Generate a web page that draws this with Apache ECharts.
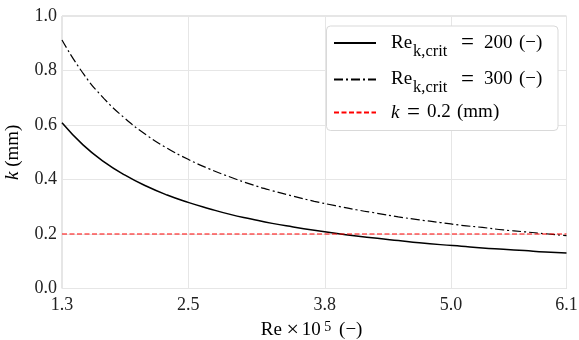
<!DOCTYPE html>
<html><head><meta charset="utf-8">
<script src="https://cdn.jsdelivr.net/npm/echarts@6/dist/echarts.min.js"></script>
<style>html,body{margin:0;padding:0;background:#fff}#c{width:579px;height:340px}</style>
</head><body><div id="c"></div>
<script>
const reValues = [1.3,1.5,1.7,1.9,2.1,2.3,2.5,2.7,2.9,3.1,3.3,3.5,3.7,3.9,4.1,4.3,4.5,4.7,4.9,5.1,5.3,5.5,5.7,5.9,6.1];
const k200 = [0.608,0.527,0.465,0.416,0.376,0.343,0.316,0.293,0.272,0.255,0.239,0.226,0.214,0.203,0.193,0.184,0.176,0.168,0.161,0.155,0.149,0.144,0.139,0.134,0.130];
const k300 = [0.912,0.790,0.697,0.624,0.564,0.515,0.474,0.439,0.409,0.382,0.359,0.339,0.320,0.304,0.289,0.276,0.263,0.252,0.242,0.232,0.224,0.215,0.208,0.201,0.194];
const kRef = [0.2, 0.2];
const kRefRe = [1.3, 6.1];
const xTicks = [1.3, 2.5, 3.8, 5.0, 6.1];
const seriesNames = ['Re200', 'Re300', 'kref'];

const FONT = '"Liberation Serif", "DejaVu Serif", serif';
const zip = (xs, ys) => xs.map((x, i) => [x, ys[i]]);
const chart = echarts.init(document.getElementById('c'), null, {renderer: 'canvas'});
const base = {fontFamily: FONT, fontSize: 19, color: '#000', lineHeight: 26, align: 'left'};
const rich = {
  re: Object.assign({}, base, {width: 22}),
  sub: Object.assign({}, base, {fontSize: 16.5, width: 48, lineHeight: 10, padding: [17, 0, 0, 0]}),
  pad: Object.assign({}, base, {fontSize: 16.5, width: 0, lineHeight: 10, padding: [10, 0, 0, 0]}),
  eq: Object.assign({}, base, {fontSize: 23, width: 23}),
  num: Object.assign({}, base, {width: 35}),
  par: Object.assign({}, base, {width: 29}),
  ki: Object.assign({}, base, {fontStyle: 'italic', width: 16}),
  eq2: Object.assign({}, base, {fontSize: 23, width: 20}),
  num2: Object.assign({}, base, {width: 30}),
  mm: Object.assign({}, base, {width: 44})
};
const xrich = {
  re: Object.assign({}, base, {width: 24}),
  tm: Object.assign({}, base, {fontSize: 22, width: 16, align: 'center'}),
  ten: Object.assign({}, base, {width: 21}),
  sup: Object.assign({}, base, {fontSize: 14, width: 12, lineHeight: 10, padding: [0, 0, 7, 0]}),
  par: Object.assign({}, base, {width: 34, align: 'center'})
};
const yrich = {
  ki: Object.assign({}, base, {fontStyle: 'italic', align: 'center'}),
  a: Object.assign({}, base, {align: 'center'})
};
chart.setOption({
  animation: false,
  backgroundColor: '#fff',
  grid: {left: 62, right: 12.5, top: 16, bottom: 51.5, show: true, borderColor: '#cccccc', borderWidth: 1,
         containLabel: false, outerBoundsMode: 'none'},
  xAxis: {
    type: 'value', min: 1.3, max: 6.1,
    axisLine: {show: false}, axisTick: {show: false, customValues: xTicks},
    splitLine: {show: true, lineStyle: {color: '#e6e6e6', width: 1}},
    axisLabel: {customValues: xTicks, formatter: v => v.toFixed(1), fontFamily: FONT, fontSize: 18, color: '#222', margin: 8},
    name: '{re|Re}{tm|×}{ten|10}{sup|5}{par|(−)}', nameLocation: 'middle', nameGap: 27,
    nameTextStyle: {rich: xrich}
  },
  yAxis: {
    type: 'value', min: 0, max: 1.0, interval: 0.2,
    axisLine: {show: false}, axisTick: {show: false},
    splitLine: {show: true, lineStyle: {color: '#e6e6e6', width: 1}},
    axisLabel: {formatter: v => v.toFixed(1), fontFamily: FONT, fontSize: 18, color: '#222', margin: 5},
    name: '{ki|k}{a| (mm)}', nameLocation: 'middle', nameGap: 36, nameRotate: 90,
    nameTextStyle: {rich: yrich}
  },
  legend: {
    orient: 'vertical', left: 326.5, top: 26, padding: [0, 10, 4.5, 6.5],
    backgroundColor: '#fff', borderColor: '#d9d9d9', borderWidth: 1, borderRadius: 4,
    itemWidth: 42, itemHeight: 12, itemGap: 2.5,
    itemStyle: {color: 'rgba(0,0,0,0)', borderWidth: 0, opacity: 0},
    data: seriesNames,
    textStyle: {rich: rich, padding: [0, 0, 0, 10]},
    formatter: n => n === 'Re200' ? '{re|Re}{sub|k,crit}{eq|=}{num|200}{par|(−)}' :
                    n === 'Re300' ? '{re|Re}{sub|k,crit}{eq|=}{num|300}{par|(−)}' : '{ki|k}{pad| }{eq2|=}{num2|0.2}{mm|(mm)}'
  },
  series: [
    {name: seriesNames[0], type: 'line', data: zip(reValues, k200), smooth: true, showSymbol: false, symbol: 'none',
     lineStyle: {color: '#000', width: 1.5}, itemStyle: {color: '#000'}},
    {name: seriesNames[1], type: 'line', data: zip(reValues, k300), smooth: true, showSymbol: false, symbol: 'none',
     lineStyle: {color: '#000', width: 1.2, type: [9, 3, 2, 3]}, itemStyle: {color: '#000'}},
    {name: seriesNames[2], type: 'line', data: zip(kRefRe, kRef), showSymbol: false, symbol: 'none',
     lineStyle: {color: '#ff0000', width: 1.2, type: [5, 2.5]}, itemStyle: {color: '#ff0000'}}
  ]
});
</script></body></html>
